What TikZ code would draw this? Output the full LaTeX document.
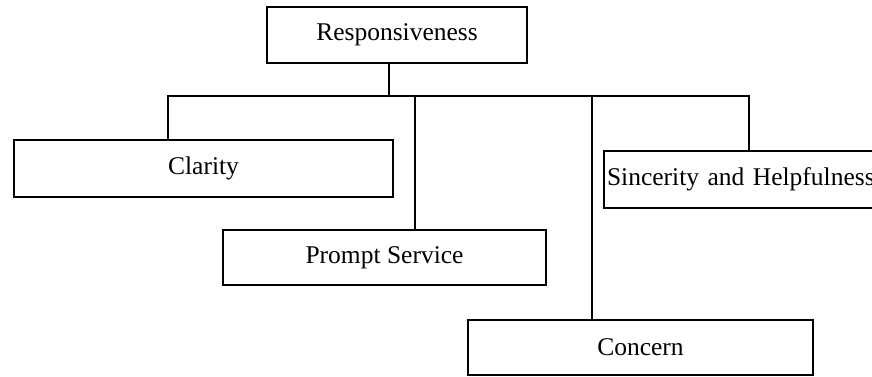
\documentclass[tikz,border=0pt]{standalone}
\usepackage{fontspec}
\setmainfont{Liberation Serif}
\begin{document}
\begin{tikzpicture}[x=1pt,y=-1pt,
  box/.style={draw, line width=1.9pt, inner sep=0pt,
    font=\fontsize{25.5}{30}\selectfont},
  link/.style={line width=2.6pt}]
\useasboundingbox (0,0) rectangle (872,376);
\clip (0,0) rectangle (872,376);

% boxes
\node[box, minimum width=260pt, minimum height=56pt] (resp) at (397,35) {Responsiveness};
\node[box, minimum width=379pt, minimum height=57pt] (clarity) at (203.5,168.5) {Clarity};
\node[box, minimum width=323pt, minimum height=55pt] (prompt) at (384.5,257.5) {Prompt Service};
\node[box, minimum width=345pt, minimum height=55pt] (concern) at (640.5,347.5) {Concern};
\node[box, minimum width=296pt, minimum height=57pt, text width=290pt, align=left,
  inner xsep=3pt] (sinc) at (752,179.5) {\mbox{Sincerity and Helpfulness}};

% bus junctions
\coordinate (j0) at (389,96);
\coordinate (j1) at (168,96);
\coordinate (j2) at (415,96);
\coordinate (j3) at (592,96);
\coordinate (j4) at (749,96);

% connectors
\draw[link] (resp.south -| j0) -- (j0);
\draw[link] (clarity.north -| j1) |- (j4) -- (sinc.north -| j4);
\draw[link] (j2) -- (prompt.north -| j2);
\draw[link] (j3) -- (concern.north -| j3);
\end{tikzpicture}
\end{document}
